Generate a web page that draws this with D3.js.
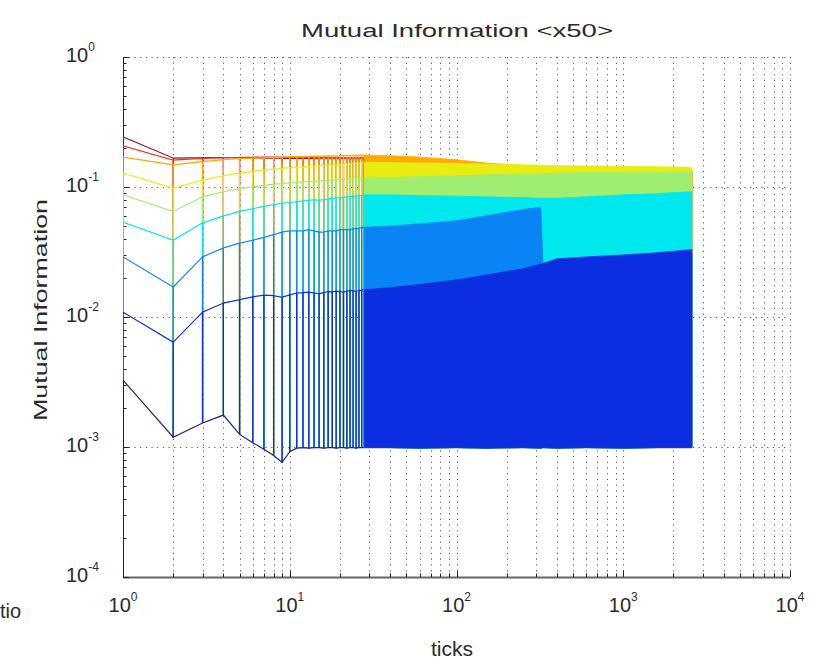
<!DOCTYPE html>
<html><head><meta charset="utf-8">
<script src="https://cdn.jsdelivr.net/npm/d3@7"></script>
<style>body{margin:0;background:#fff}svg{display:block}</style>
</head><body><svg id="c" width="813" height="666"></svg>
<script>
// ---------- data ----------
const tickSteps = [1,2,3,4,5,6,7,8,9,10,11,12,13,14,15,16,17,18,19,20,21,22,23,24,25,26,27,28];
const earlyS1 = [0.00327,0.00119,0.00153,0.00176,0.00125,0.00108,0.00096,0.00086,0.00076,0.00092,0.00098,0.00099,0.00098,0.00099,0.00099,0.00098,0.00099,0.00099,0.00098,0.00099,0.00099,0.00098,0.00099,0.00099,0.00098,0.00099,0.00099,0.00099];
const earlyS2 = [0.0109,0.0064,0.0109,0.0128,0.0136,0.0143,0.0147,0.0146,0.0142,0.0148,0.0153,0.0154,0.0155,0.0153,0.0151,0.0154,0.0157,0.0156,0.0158,0.0157,0.0155,0.0158,0.0160,0.0159,0.0158,0.0160,0.0161,0.0162];
const earlyS3 = [0.029,0.017,0.029,0.034,0.037,0.039,0.041,0.043,0.045,0.046,0.046,0.046,0.047,0.046,0.045,0.045,0.046,0.046,0.046,0.047,0.047,0.047,0.047,0.048,0.048,0.048,0.049,0.049];
const earlyS4 = [0.0537,0.039,0.053,0.060,0.065,0.068,0.071,0.073,0.075,0.076,0.077,0.078,0.079,0.080,0.079,0.080,0.081,0.082,0.082,0.083,0.083,0.084,0.084,0.085,0.085,0.086,0.086,0.087];
const earlyS5 = [0.087,0.065,0.084,0.092,0.097,0.100,0.103,0.105,0.106,0.108,0.109,0.110,0.110,0.111,0.112,0.112,0.113,0.113,0.114,0.114,0.115,0.115,0.115,0.116,0.116,0.116,0.117,0.117];
const earlyS6 = [0.128,0.098,0.113,0.122,0.128,0.132,0.135,0.137,0.139,0.141,0.142,0.143,0.144,0.145,0.146,0.147,0.148,0.148,0.149,0.150,0.150,0.151,0.152,0.152,0.153,0.153,0.154,0.155];
const earlyS7 = [0.170,0.148,0.157,0.162,0.165,0.167,0.168,0.169,0.170,0.171,0.171,0.172,0.172,0.173,0.173,0.173,0.174,0.174,0.174,0.174,0.175,0.175,0.175,0.175,0.176,0.176,0.176,0.176];
const earlyS8 = [0.207,0.161,0.166,0.168,0.169,0.170,0.170,0.170,0.170,0.170,0.170,0.170,0.170,0.169,0.169,0.169,0.169,0.169,0.169,0.169,0.168,0.168,0.168,0.168,0.168,0.168,0.168,0.168];
const earlyS9 = [0.243,0.167,0.168,0.168,0.168,0.168,0.167,0.167,0.167,0.166,0.166,0.166,0.166,0.165,0.165,0.165,0.165,0.165,0.165,0.165,0.165,0.165,0.165,0.165,0.165,0.165,0.165,0.165];

const lateTicks = [28,40,60,100,150,250,320,330,400,600,1000,1600,2580];
const lateS1 = [0.00099,0.00099,0.00098,0.00099,0.00098,0.00099,0.00098,0.00099,0.00098,0.00099,0.00098,0.00099,0.00099];
const lateS2 = [0.0162,0.0168,0.0178,0.0193,0.0210,0.0235,0.0255,0.0258,0.0280,0.0290,0.0300,0.0312,0.0330];
const lateS3 = [0.049,0.050,0.052,0.055,0.060,0.067,0.070,0.025,0.027,0.028,0.029,0.030,0.031];
const lateS4 = [0.087,0.087,0.086,0.085,0.084,0.083,0.082,0.082,0.082,0.084,0.087,0.089,0.092];
const lateS5 = [0.117,0.118,0.120,0.122,0.124,0.126,0.127,0.127,0.128,0.129,0.130,0.130,0.131];
const lateS6 = [0.155,0.154,0.153,0.152,0.150,0.148,0.147,0.147,0.146,0.145,0.144,0.143,0.142];
const lateS7 = [0.176,0.174,0.170,0.162,0.153,0.146,0.143,0.142,0.140,0.139,0.138,0.137,0.136];
const lateS8 = [0.168,0.165,0.160,0.152,0.145,0.140,0.138,0.137,0.136,0.135,0.134,0.133,0.132];
const lateS9 = [0.165,0.162,0.157,0.150,0.143,0.138,0.136,0.135,0.134,0.133,0.132,0.131,0.130];

const xTickValues = [1,10,100,1000,10000];
const xTickExp = ["0","1","2","3","4"];
const yTickValues = [1e-4,1e-3,1e-2,1e-1,1];
const yTickExp = ["-4","-3","-2","-1","0"];
const titleText = "Mutual Information <x50>";
const xLabelText = "ticks";
const yLabelText = "Mutual Information";
const strayText = "tio";

// series colours (jet-like, as they appear in the picture)
const colors = ["#1f1f8f","#0a2ee0","#0a84f5","#00e8ee","#a0ee70","#e8ec10","#ffaa00","#ee3322","#9a1414"];

// ---------- setup ----------
const earlySeries = [earlyS1,earlyS2,earlyS3,earlyS4,earlyS5,earlyS6,earlyS7,earlyS8,earlyS9];
const lateSeries = [lateS1,lateS2,lateS3,lateS4,lateS5,lateS6,lateS7,lateS8,lateS9];

const L=123, R=790, T=57, B=577;
const x = d3.scaleLog().domain([1,10000]).range([L,R]);
const y = d3.scaleLog().domain([1e-4,1]).range([B,T]);
const svg = d3.select('#c');
const FONT = "'Liberation Sans', Arial, Helvetica, sans-serif";

svg.append('defs').append('clipPath').attr('id','clip')
  .append('rect').attr('x',L).attr('y',T).attr('width',R-L).attr('height',B-T);

// grid
const grid = svg.append('g').attr('stroke','#555').attr('stroke-width',1).attr('stroke-dasharray','1.2,4.5');
x.ticks().filter(v=>v>1).forEach(v=>{
  grid.append('line').attr('x1',Math.round(x(v))+0.5).attr('x2',Math.round(x(v))+0.5).attr('y1',T).attr('y2',B);
});
yTickValues.filter(v=>v>1e-4).forEach(v=>{
  grid.append('line').attr('x1',L).attr('x2',R).attr('y1',Math.round(y(v))+0.5).attr('y2',Math.round(y(v))+0.5);
});

// axes lines + ticks (inward)
const ax = svg.append('g').attr('stroke','#222').attr('stroke-width',1);
ax.append('line').attr('x1',L+0.5).attr('x2',L+0.5).attr('y1',T).attr('y2',B);
ax.append('line').attr('x1',L).attr('x2',R).attr('y1',B+0.5).attr('y2',B+0.5).attr('stroke','#666').attr('stroke-width',2);
y.ticks().forEach(v=>{
  const major = yTickValues.includes(v);
  const yy = Math.round(y(v))+0.5;
  ax.append('line').attr('x1',L).attr('x2',L+(major?6:3.5)).attr('y1',yy).attr('y2',yy);
});
x.ticks().forEach(v=>{
  const major = xTickValues.includes(v);
  const xx = Math.round(x(v))+0.5;
  ax.append('line').attr('x1',xx).attr('x2',xx).attr('y1',B).attr('y2',B-(major?6:3.5));
});

// data
const plot = svg.append('g').attr('clip-path','url(#clip)');
const line = d3.line().x(d=>x(d[0])).y(d=>y(d[1]));
for(let k=earlySeries.length-1;k>=1;k--){
  const pts=[];
  tickSteps.forEach((t,i)=>{ pts.push([t,earlySeries[k][i]],[t,earlyS1[i]],[t,earlySeries[k][i]]); });
  plot.append('path').attr('d',line(pts)).attr('fill','none').attr('stroke',colors[k]).attr('stroke-width',1.2);
}
plot.append('path').attr('d',line(tickSteps.map((t,i)=>[t,earlyS1[i]]))).attr('fill','none').attr('stroke',colors[0]).attr('stroke-width',1.2);

const area = d3.area().x((d,i)=>x(lateTicks[i])).y0((d,i)=>y(lateS1[i])).y1(d=>y(d));
for(let k=lateSeries.length-1;k>=1;k--){
  plot.append('path').attr('d',area(lateSeries[k])).attr('fill',colors[k]).attr('stroke',colors[k]).attr('stroke-width',0.8);
}

// tick labels
const tl = svg.append('g').attr('font-family',FONT).attr('fill','#2a2a2a');
xTickValues.forEach((v,i)=>{
  const t = tl.append('text').attr('x',x(v)).attr('y',612).attr('text-anchor','middle').attr('font-size',20);
  t.append('tspan').text('10');
  t.append('tspan').attr('font-size',12).attr('dy',-11).text(xTickExp[i]);
});
yTickValues.forEach((v,i)=>{
  const t = tl.append('text').attr('x',66).attr('y',y(v)+5).attr('text-anchor','start').attr('font-size',20);
  t.append('tspan').text('10');
  t.append('tspan').attr('font-size',12).attr('dy',-11).text(yTickExp[i]);
});

// titles
svg.append('text').attr('x',457).attr('y',37).attr('text-anchor','middle').attr('font-family',FONT)
  .attr('font-size',19).attr('fill','#2a2a2a').attr('textLength',312).attr('lengthAdjust','spacingAndGlyphs').text(titleText);
svg.append('text').attr('x',452).attr('y',656).attr('text-anchor','middle').attr('font-family',FONT)
  .attr('font-size',21).attr('fill','#2a2a2a').text(xLabelText);
svg.append('text').attr('transform','translate(47,310) rotate(-90)').attr('text-anchor','middle').attr('font-family',FONT)
  .attr('font-size',19).attr('fill','#2a2a2a').attr('textLength',222).attr('lengthAdjust','spacingAndGlyphs').text(yLabelText);
svg.append('text').attr('x',0).attr('y',618).attr('font-family',FONT).attr('font-size',20).attr('fill','#2a2a2a').text(strayText);
</script></body></html>
